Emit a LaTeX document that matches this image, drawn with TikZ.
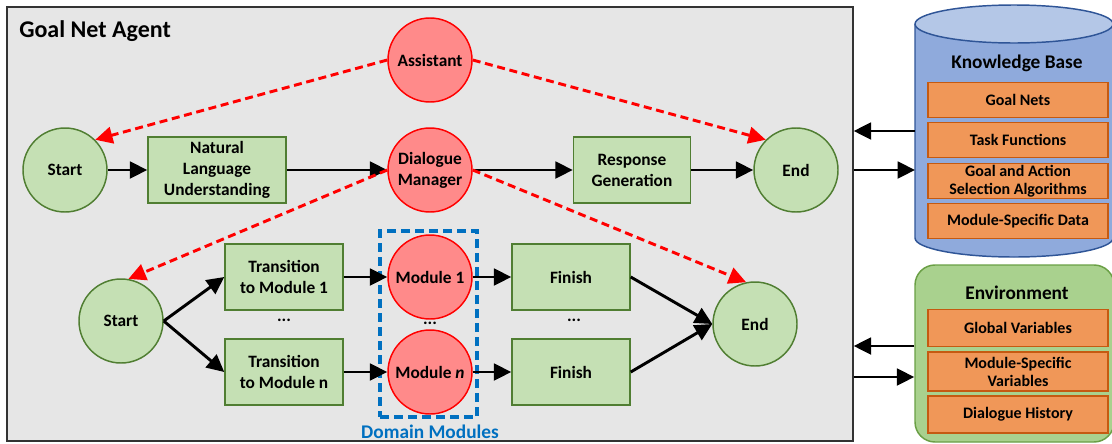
\documentclass[tikz,border=0pt]{standalone}
\usepackage{fontspec}
\setmainfont{Carlito}
\usepackage{xcolor}
\usepackage{tikz}
\usetikzlibrary{arrows.meta, positioning}

\definecolor{agentbg}{HTML}{E6E6E6}
\definecolor{goalfill}{HTML}{C5E0B4}
\definecolor{goalline}{HTML}{507E32}
\definecolor{subfill}{HTML}{FF8A8A}
\definecolor{itemfill}{HTML}{F09758}
\definecolor{itemline}{HTML}{C55A11}
\definecolor{kbbody}{HTML}{8FAADC}
\definecolor{kbtop}{HTML}{B4C7E7}
\definecolor{kbline}{HTML}{2F5597}
\definecolor{envfill}{HTML}{A9D18E}
\definecolor{envline}{HTML}{6A9F45}
\definecolor{domblue}{HTML}{0070C0}

\tikzset{
    nodefont/.style={font=\bfseries\fontsize{13}{15.75}\selectfont},
    goal/.style={circle, draw=goalline, fill=goalfill, line width=1.1pt, minimum size=63pt, inner sep=0pt, nodefont, align=center},
    subgoal/.style={circle, draw=red, fill=subfill, line width=1.1pt, minimum size=63pt, inner sep=0pt, nodefont, align=center},
    task/.style={rectangle, draw=goalline, fill=goalfill, line width=1.1pt, minimum width=88.5pt, minimum height=49.5pt, inner sep=0pt, nodefont, align=center},
    item/.style={rectangle, draw=itemline, fill=itemfill, line width=1.2pt, minimum width=135pt, minimum height=26.5pt, inner sep=0pt, align=center, font=\bfseries\fontsize{12}{13.5}\selectfont},
    head/.style={font=\bfseries\fontsize{14.5}{17}\selectfont},
    flow/.style={-{Triangle[length=13pt, width=12.5pt]}, line width=2.2pt},
    ctrl/.style={-{Triangle[length=13pt, width=12.5pt]}, red, line width=2.2pt, dash pattern=on 6pt off 3.5pt},
}

\begin{document}
\begin{tikzpicture}[x=0.75pt, y=-0.75pt]
    \useasboundingbox (0,0) rectangle (1112,443);
    % Agent frame
    \node[draw=black!80, fill=agentbg, line width=1pt, minimum width=634.5pt, minimum height=325.5pt] (agent) at (430,224) {};
    \node[anchor=base west, inner sep=0pt, font=\bfseries\fontsize{18}{21}\selectfont] (title) at (19,37) {Goal Net Agent};

    % Top goal net
    \node[goal] (start1) at (65,170) {Start};
    \node[task, minimum width=103.5pt] (nlu) at (217,170) {Natural\\Language\\Understanding};
    \node[subgoal] (assist) at (430,60) {Assistant};
    \node[subgoal] (dm) at (430,170) {Dialogue\\Manager};
    \node[task, minimum width=87.75pt] (resp) at (632,170) {Response\\Generation};
    \node[goal] (end1) at (796,170) {End};

    % Bottom goal net
    \node[draw=domblue, line width=2.3pt, dash pattern=on 7pt off 3.5pt, minimum width=72.75pt, minimum height=139.5pt] (dombox) at (428.5,324) {};
    \node[font=\bfseries\fontsize{14.5}{17}\selectfont, text=domblue] (domlabel) at (430,432) {Domain Modules};
    \node[goal] (start2) at (121,321) {Start};
    \node[task] (trans1) at (284,277) {Transition\\to Module 1};
    \node[task] (transn) at (284,372) {Transition\\to Module n};
    \node[subgoal] (mod1) at (430,277) {Module 1};
    \node[subgoal] (modn) at (430,372) {Module \textit{n}};
    \node[task] (fin1) at (571,277) {Finish};
    \node[task] (finn) at (571,372) {Finish};
    \node[goal] (end2) at (755,324) {End};
    \node[nodefont] (dots1) at (284,320) {...};
    \node[nodefont] (dots2) at (430,323) {...};
    \node[nodefont] (dots3) at (574,320) {...};

    \draw[flow] (start1) -- (nlu);
    \draw[flow] (nlu) -- (dm);
    \draw[flow] (dm) -- (resp);
    \draw[flow] (resp) -- (end1);
    \draw[flow] (start2.east) -- (trans1.west);
    \draw[flow] (start2.east) -- (transn.west);
    \draw[flow] (trans1) -- (mod1);
    \draw[flow] (transn) -- (modn);
    \draw[flow] (mod1) -- (fin1);
    \draw[flow] (modn) -- (finn);
    \draw[flow] (fin1.east) -- (end2.west);
    \draw[flow] (finn.east) -- (end2.west);

    \draw[ctrl] (assist.west) -- (start1.north east);
    \draw[ctrl] (assist.east) -- (end1.north west);
    \draw[ctrl] (dm.west) -- (start2.80);
    \draw[ctrl] (dm.east) -- (end2.102);

    % Knowledge base cylinder
    \fill[kbbody] (915,24) -- (915,238) arc[start angle=180, end angle=0, x radius=99, y radius=19] -- (1113,24) -- cycle;
    \draw[kbline, line width=1.1pt] (915,24) -- (915,238) arc[start angle=180, end angle=0, x radius=99, y radius=19] -- (1113,24);
    \draw[kbline, fill=kbtop, line width=1.1pt] (1014,24) ellipse [x radius=99, y radius=19];
    \coordinate (kbw) at (915,131);
    \node[head] (kbtitle) at (1017,63) {Knowledge Base};
    \node[item] (goalnets) at (1018,100) {Goal Nets};
    \node[item] (taskfn) at (1018,140) {Task Functions};
    \node[item] (select) at (1018,181) {Goal and Action\\Selection Algorithms};
    \node[item] (msdata) at (1018,221) {Module-Specific Data};

    % Environment
    \node[draw=envline, fill=envfill, line width=1.1pt, rounded corners=15pt, minimum width=149.25pt, minimum height=132.75pt] (env) at (1014.5,353.5) {};
    \node[head] (envtitle) at (1017,293) {Environment};
    \node[item, minimum height=28pt] (globvar) at (1018,328) {Global Variables};
    \node[item, minimum height=29pt] (msvar) at (1018,371.5) {Module-Specific\\Variables};
    \node[item, minimum height=27.5pt] (history) at (1018,414.5) {Dialogue History};

    \draw[flow] (kbw) -- (kbw -| agent.east);
    \draw[flow] (agent.east |- end1) -- (end1 -| kbw);
    \draw[flow] (env.west |- 0,346) -- (agent.east |- 0,346);
    \draw[flow] (agent.east |- 0,377) -- (env.west |- 0,377);
\end{tikzpicture}
\end{document}
